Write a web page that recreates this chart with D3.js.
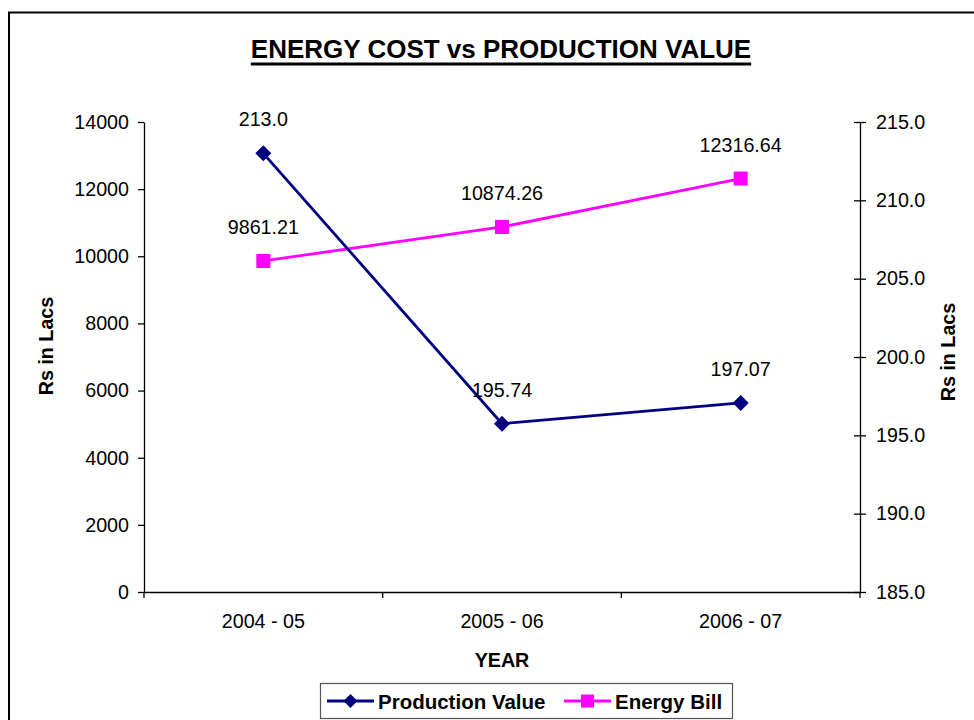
<!DOCTYPE html>
<html>
<head>
<meta charset="utf-8">
<script src="https://cdn.jsdelivr.net/npm/d3@7"></script>
<style>
  html, body { margin: 0; padding: 0; background: #fff; }
  svg { display: block; font-family: "Liberation Sans", Arial, sans-serif; }
</style>
</head>
<body>
<svg id="chart" width="974" height="720"></svg>
<script>
const categories = ["2004 - 05", "2005 - 06", "2006 - 07"];
const productionValue = [213.0, 195.74, 197.07];
const energyBill = [9861.21, 10874.26, 12316.64];
const productionLabels = ["213.0", "195.74", "197.07"];
const energyLabels = ["9861.21", "10874.26", "12316.64"];
const leftTicks = [0, 2000, 4000, 6000, 8000, 10000, 12000, 14000];
const rightTicks = [185, 190, 195, 200, 205, 210, 215];

const svg = d3.select("#chart");
const plot = { left: 144, right: 860, top: 122, bottom: 592 };

// outer border
svg.append("rect").attr("x", 9).attr("y", 12.5).attr("width", 1000).attr("height", 760)
  .attr("fill", "none").attr("stroke", "#000").attr("stroke-width", 2);

// title
const title = svg.append("text").attr("x", 501).attr("y", 57.5).attr("text-anchor", "middle")
  .attr("font-size", 26).attr("font-weight", "bold").attr("fill", "#000")
  .text("ENERGY COST vs PRODUCTION VALUE");
const tb = title.node().getBBox();
svg.append("line").attr("x1", tb.x).attr("x2", tb.x + tb.width).attr("y1", 64).attr("y2", 64)
  .attr("stroke", "#000").attr("stroke-width", 3);

const x = d3.scaleBand().domain(categories).range([plot.left, plot.right]).paddingInner(0).paddingOuter(0);
const yL = d3.scaleLinear().domain([0, 14000]).range([plot.bottom, plot.top]);
const yR = d3.scaleLinear().domain([185, 215]).range([plot.bottom, plot.top]);
const cx = c => x(c) + x.bandwidth() / 2;

// left axis
const gL = svg.append("g").attr("transform", `translate(${plot.left},0)`)
  .call(d3.axisLeft(yL).tickValues(leftTicks).tickSizeInner(6).tickSizeOuter(0).tickPadding(9).tickFormat(d3.format("d")));
gL.select(".domain").attr("stroke", "#000").attr("stroke-width", 1.3);
gL.selectAll(".tick line").attr("stroke", "#000").attr("stroke-width", 1.3);
gL.selectAll(".tick text").attr("font-size", 19.7).attr("fill", "#000").attr("font-family", "Liberation Sans, Arial, sans-serif");

// right axis (cross ticks)
const gR = svg.append("g").attr("transform", `translate(${plot.right},0)`)
  .call(d3.axisRight(yR).tickValues(rightTicks).tickSizeInner(6).tickSizeOuter(0).tickPadding(10).tickFormat(d3.format(".1f")));
gR.select(".domain").attr("stroke", "#000").attr("stroke-width", 1.3);
gR.selectAll(".tick line").attr("x1", -6).attr("x2", 6).attr("stroke", "#000").attr("stroke-width", 1.3);
gR.selectAll(".tick text").attr("font-size", 19.7).attr("fill", "#000").attr("font-family", "Liberation Sans, Arial, sans-serif");

// x axis
const gX = svg.append("g").attr("transform", `translate(0,${plot.bottom})`)
  .call(d3.axisBottom(x).tickSize(0).tickPadding(22));
gX.select(".domain").attr("stroke", "#000").attr("stroke-width", 1.3);
gX.selectAll(".tick text").attr("font-size", 19.7).attr("fill", "#000").attr("font-family", "Liberation Sans, Arial, sans-serif");
// boundary ticks between categories
const bounds = categories.map(c => x(c)).concat([x(categories[categories.length - 1]) + x.bandwidth()]);
svg.append("g").selectAll("line").data(bounds).join("line")
  .attr("x1", d => d).attr("x2", d => d).attr("y1", plot.bottom).attr("y2", plot.bottom + 6)
  .attr("stroke", "#000").attr("stroke-width", 1.3);

// axis titles
svg.append("text").attr("transform", "translate(53,346) rotate(-90)").attr("text-anchor", "middle")
  .attr("font-size", 19.7).attr("font-weight", "bold").text("Rs in Lacs");
svg.append("text").attr("transform", "translate(955,352) rotate(-90)").attr("text-anchor", "middle")
  .attr("font-size", 19.7).attr("font-weight", "bold").text("Rs in Lacs");
svg.append("text").attr("x", 502).attr("y", 667).attr("text-anchor", "middle")
  .attr("font-size", 19.7).attr("font-weight", "bold").text("YEAR");

// series
const navy = "#000080", magenta = "#FF00FF";
const eData = categories.map((c, i) => ({ c, v: energyBill[i], l: energyLabels[i] }));
const pData = categories.map((c, i) => ({ c, v: productionValue[i], l: productionLabels[i] }));

svg.append("path").datum(eData).attr("fill", "none").attr("stroke", magenta).attr("stroke-width", 2.8)
  .attr("d", d3.line().x(d => cx(d.c)).y(d => yL(d.v)));
svg.append("path").datum(pData).attr("fill", "none").attr("stroke", navy).attr("stroke-width", 2.8)
  .attr("d", d3.line().x(d => cx(d.c)).y(d => yR(d.v)));

svg.append("g").selectAll("rect").data(eData).join("rect")
  .attr("x", d => cx(d.c) - 7).attr("y", d => yL(d.v) - 7).attr("width", 14).attr("height", 14)
  .attr("fill", magenta);
const diamond = "M0,-8L8,0L0,8L-8,0Z";
svg.append("g").selectAll("path").data(pData).join("path")
  .attr("transform", d => `translate(${cx(d.c)},${yR(d.v)})`).attr("d", diamond).attr("fill", navy);

// data labels
svg.append("g").selectAll("text").data(eData).join("text")
  .attr("x", d => cx(d.c)).attr("y", d => yL(d.v) - 27).attr("text-anchor", "middle")
  .attr("font-size", 19.7).attr("fill", "#000").text(d => d.l);
svg.append("g").selectAll("text").data(pData).join("text")
  .attr("x", d => cx(d.c)).attr("y", d => yR(d.v) - 27).attr("text-anchor", "middle")
  .attr("font-size", 19.7).attr("fill", "#000").text(d => d.l);

// legend
const lg = svg.append("g");
lg.append("rect").attr("x", 320.5).attr("y", 683.5).attr("width", 412).attr("height", 35)
  .attr("fill", "#fff").attr("stroke", "#555").attr("stroke-width", 1.2);
const items = [
  { name: "Production Value", color: navy, shape: "diamond", x0: 327 },
  { name: "Energy Bill", color: magenta, shape: "square", x0: 564 }
];
const ly = 701;
items.forEach(it => {
  lg.append("line").attr("x1", it.x0).attr("x2", it.x0 + 47).attr("y1", ly).attr("y2", ly)
    .attr("stroke", it.color).attr("stroke-width", 2.8);
  if (it.shape === "diamond") {
    lg.append("path").attr("transform", `translate(${it.x0 + 23.5},${ly})`).attr("d", "M0,-7L7,0L0,7L-7,0Z").attr("fill", it.color);
  } else {
    lg.append("rect").attr("x", it.x0 + 23.5 - 6.5).attr("y", ly - 6.5).attr("width", 13).attr("height", 13).attr("fill", it.color);
  }
  lg.append("text").attr("x", it.x0 + 51).attr("y", ly + 7.5).attr("font-size", 20.5).attr("font-weight", "bold")
    .attr("fill", "#000").text(it.name);
});
</script>
</body>
</html>
